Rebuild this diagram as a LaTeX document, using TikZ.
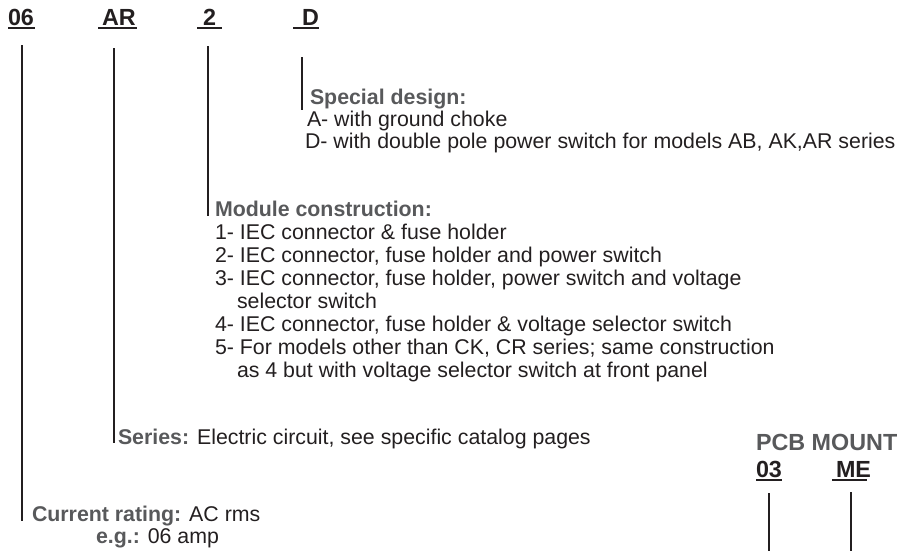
\documentclass[tikz,border=0pt]{standalone}
\usepackage{fontspec}
\setmainfont{Liberation Sans}
\definecolor{ink}{HTML}{231F20}
\definecolor{lbl}{HTML}{58595B}
\newcommand{\lab}[1]{\textcolor{lbl}{\bfseries #1}}
\tikzset{
  txt/.style={inner sep=0pt, outer sep=0pt, anchor=base west, text=ink, font=\fontsize{16}{18}\selectfont},
  hdr/.style={inner sep=0pt, outer sep=0pt, anchor=base west, text=ink, font=\fontsize{17.5}{20}\selectfont\bfseries},
  hdrgray/.style={hdr, text=lbl},
  leader/.style={draw=ink, line width=0.8pt},
  uline/.style={draw=ink, line width=1.4pt},
}
\begin{document}
\begin{tikzpicture}[x=0.75pt,y=-0.75pt]
\useasboundingbox (0,0) rectangle (899,551);
% header code
\node[hdr] (h06) at (8,25) {06};
\node[hdr] (hAR) at (102,25) {AR};
\node[hdr] (h2) at (203,25) {2};
\node[hdr] (hD) at (302,25) {D};
\draw[uline] (8,28) -- (35,28);
\draw[uline] (98,28) -- (137,28);
\draw[uline] (197,28) -- (222,28);
\draw[uline] (293,28) -- (319,28);
% special design
\node[txt] (sd) at (310,104) {\lab{Special design:}};
\node[txt] (sdA) at (307,126) {A- with ground choke};
\node[txt] (sdD) at (305,148) {D- with double pole power switch for models AB, AK,AR series};
% module construction
\node[txt] (mc) at (215,216) {\lab{Module construction:}};
\node[txt] (mc1) at (215,239) {1- IEC connector \& fuse holder};
\node[txt] (mc2) at (215,262) {2- IEC connector, fuse holder and power switch};
\node[txt] (mc3) at (215,285) {3- IEC connector, fuse holder, power switch and voltage};
\node[txt] (mc3b) at (237,308) {selector switch};
\node[txt] (mc4) at (215,331) {4- IEC connector, fuse holder \& voltage selector switch};
\node[txt] (mc5) at (215,354) {5- For models other than CK, CR series; same construction};
\node[txt] (mc5b) at (237,377) {as 4 but with voltage selector switch at front panel};
% series
\node[txt] (ser) at (118,444) {\lab{Series:} Electric circuit, see specific catalog pages};
% current rating
\node[txt] (cr) at (32,521) {\lab{Current rating:} AC rms};
\node[txt] (eg) at (96,543) {\lab{e.g.:} 06 amp};
% leaders
\coordinate (t06) at (22,45);  \coordinate (b06) at (22,521);
\coordinate (tAR) at (114,48); \coordinate (bAR) at (114,443);
\coordinate (t2) at (208,46);  \coordinate (b2) at (208,216);
\coordinate (tD) at (302,57);  \coordinate (bD) at (302,110);
\draw[leader] (t06) -- (b06);
\draw[leader] (tAR) -- (bAR);
\draw[leader] (t2) -- (b2);
\draw[leader] (tD) -- (bD);
% PCB mount
\node[hdrgray] (pcb) at (756,450) {PCB MOUNT};
\node[hdr] (h03) at (756,477) {03};
\node[hdr] (hME) at (836,477) {ME};
\draw[uline] (756,480) -- (782,480);
\draw[uline] (832,480) -- (867,480);
\coordinate (t03) at (769,493); \coordinate (b03) at (769,551);
\coordinate (tME) at (851,492); \coordinate (bME) at (851,551);
\draw[leader] (t03) -- (b03);
\draw[leader] (tME) -- (bME);
\end{tikzpicture}
\end{document}
